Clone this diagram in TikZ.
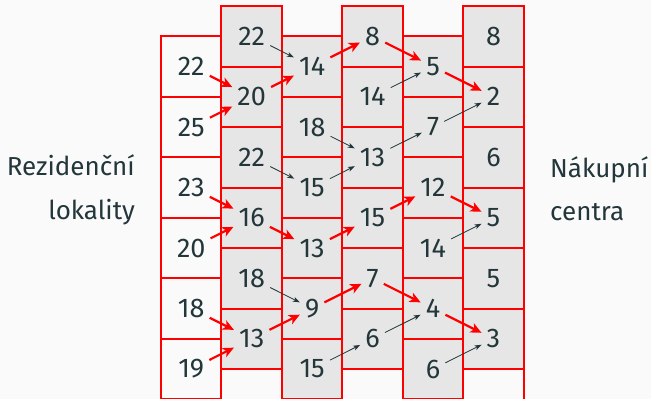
\documentclass[tikz,border=0pt]{standalone}
\usepackage{fontspec}
\IfFontExistsTF{Fira Sans Book}{\setmainfont{Fira Sans Book}}{\setmainfont{Fira Sans}}
\usetikzlibrary{arrows.meta}
\definecolor{bgc}{HTML}{FAFAFA}
\definecolor{txt}{HTML}{23373B}
\definecolor{cellgray}{HTML}{E6E6E6}
\begin{document}
\begin{tikzpicture}[x=1pt,y=-1pt,
  cell/.style={draw=red,line width=2pt},
  num/.style={inner sep=5pt,text=txt,font=\fontsize{27}{33}\selectfont},
  lab/.style={inner sep=0pt,text=txt,font=\fontsize{26}{40}\selectfont},
  redarr/.style={draw=red,line width=2.2pt,-{Stealth[length=11pt,width=10pt,inset=3pt]}},
  darkarr/.style={draw=txt,line width=0.8pt,-{Stealth[length=7pt,width=5pt,inset=2pt]}}]
\useasboundingbox (0,0) rectangle (651,399);
\fill[bgc] (0,0) rectangle (651,399);
\begin{scope}
\clip (0,0) rectangle (651,399);
\foreach \c in {1,...,6}{
  \pgfmathsetmacro\xl{161+60.45*(\c-1)}
  \pgfmathsetmacro\yt{mod(\c,2)==1 ? 36.3 : 6}
  \pgfmathsetmacro\nr{mod(\c,2)==1 ? 6 : 7}
  \foreach \r in {1,...,\nr}{
    \pgfmathsetmacro\ya{\yt+60.5*(\r-1)}
    \ifnum\c=1
      \filldraw[cell,fill=bgc] (\xl,\ya) rectangle ++(60.45,60.5);
    \else
      \ifnum\r=7
        \filldraw[cell,fill=bgc] (\xl,\ya) rectangle ++(60.45,60.5);
      \else
        \filldraw[cell,fill=cellgray] (\xl,\ya) rectangle ++(60.45,60.5);
      \fi
    \fi
  }
}
\end{scope}
\foreach \c/\vals in {1/{22,25,23,20,18,19},2/{22,20,22,16,18,13},3/{14,18,15,13,9,15},4/{8,14,13,15,7,6},5/{5,7,12,14,4,6},6/{8,2,6,5,5,3}}{
  \pgfmathsetmacro\xc{161+60.45*(\c-1)+30.22}
  \pgfmathsetmacro\yt{mod(\c,2)==1 ? 36.3 : 6}
  \foreach \v [count=\r] in \vals {
    \pgfmathsetmacro\yc{\yt+60.5*(\r-0.5)}
    \node[num] (c\c r\r) at (\xc,\yc) {\v};
  }
}
\node[lab,anchor=base east] (rez1) at (135,175) {Rezidenční};
\node[lab,anchor=base east] (rez2) at (135,219) {lokality};
\node[lab,anchor=base west] (nak1) at (550,177) {Nákupní};
\node[lab,anchor=base west] (nak2) at (550,220) {centra};
% red arrows
\foreach \a/\b in {c1r1/c2r2,c1r2/c2r2,c1r3/c2r4,c1r4/c2r4,c1r5/c2r6,c1r6/c2r6,
  c2r2/c3r1,c2r4/c3r4,c2r6/c3r5,c3r1/c4r1,c3r4/c4r4,c3r5/c4r5,
  c4r1/c5r1,c4r4/c5r3,c4r5/c5r5,c5r1/c6r2,c5r3/c6r4,c5r5/c6r6}
  \draw[redarr] (\a) -- (\b);
% dark arrows
\foreach \a/\b in {c2r1/c3r1,c2r3/c3r3,c2r5/c3r5,c3r2/c4r3,c3r3/c4r3,c3r6/c4r6,
  c4r2/c5r1,c4r3/c5r2,c4r6/c5r5,c5r2/c6r2,c5r4/c6r4,c5r6/c6r6}
  \draw[darkarr] (\a) -- (\b);
\end{tikzpicture}
\end{document}
